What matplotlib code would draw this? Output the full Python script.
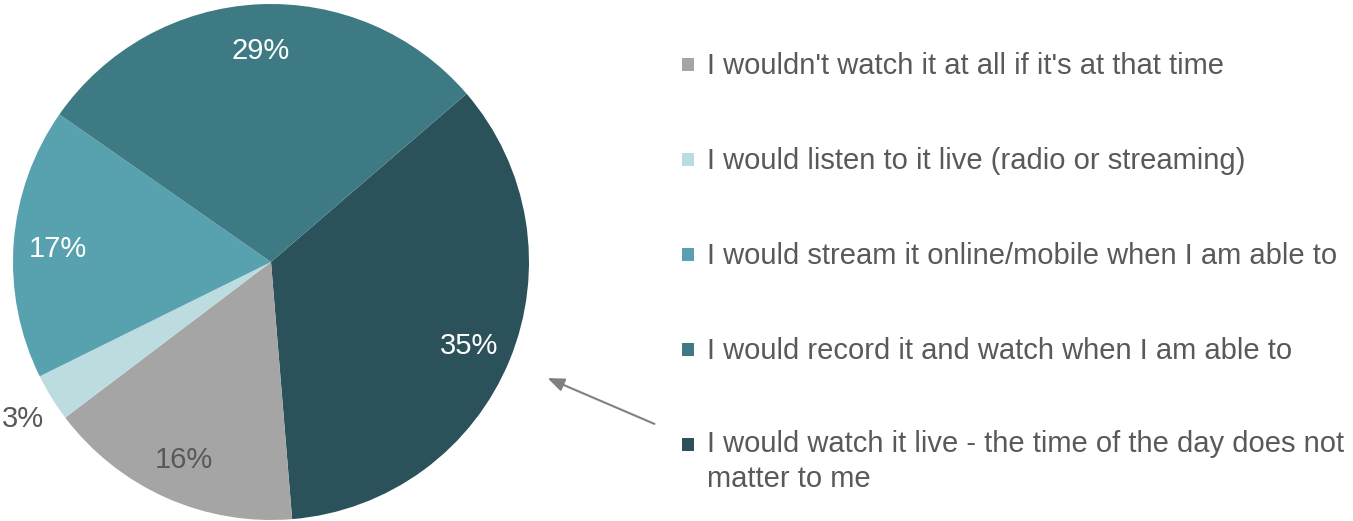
import matplotlib
matplotlib.use("Agg")
import matplotlib.pyplot as plt
from matplotlib.patches import Rectangle, FancyArrowPatch

plt.rcParams['font.family'] = ['Liberation Sans', 'DejaVu Sans']

# slices in drawing order (clockwise)
categorias = ["I would watch it live - the time of the day does not\nmatter to me",
              "I wouldn't watch it at all if it's at that time",
              "I would listen to it live (radio or streaming)",
              "I would stream it online/mobile when I am able to",
              "I would record it and watch when I am able to"]
valores = [35, 16, 3, 17, 29]
colores = ["#2B525B", "#A5A5A5", "#BDDCE0", "#58A2AF", "#3E7A83"]
color_pct = ["white", "#595959", "#595959", "white", "white"]

# legend order top to bottom
orden_leyenda = [1, 2, 3, 4, 0]

W, H = 1353, 521
fig = plt.figure(figsize=(W / 100, H / 100), dpi=100)
cx, cy, r = 271, 262, 258
ax = fig.add_axes([(cx - r) / W, (H - cy - r) / H, 2 * r / W, 2 * r / H])

wedges, _, textos = ax.pie(valores, colors=colores, startangle=40.7, counterclock=False,
                           radius=1, pctdistance=0.83,
                           autopct=lambda p: "%d%%" % round(p),
                           wedgeprops=dict(linewidth=0))
for t, c in zip(textos, color_pct):
    t.set_color(c)
    t.set_fontsize(21)
    x, y = t.get_position()
    t.set_position((x, y - 0.01))

# the small slice gets its label outside
x, y = textos[2].get_position()
textos[2].set_position((x * 1.13 / 0.83, y * 1.13 / 0.83))

ax.set_xlim(-1, 1)
ax.set_ylim(-1, 1)
ax.set_aspect("equal")
ax.axis("off")

# arrow pointing to the biggest slice
fig.add_artist(FancyArrowPatch(
    (657 / W, (H - 425) / H), (545 / W, (H - 377) / H),
    transform=fig.transFigure, arrowstyle="-|>,head_length=10,head_width=4",
    color="#808080", linewidth=1.5, mutation_scale=1))

# legend
y_filas = [64, 159, 254, 349, 444]
for fila, i in zip(y_filas, orden_leyenda):
    fig.add_artist(Rectangle((682 / W, (H - fila - 7) / H), 12 / W, 13 / H,
                             transform=fig.transFigure, color=colores[i], linewidth=0))
    if "\n" in categorias[i]:
        fig.text(707 / W, (H - fila + 14) / H, categorias[i], fontsize=21, color="#595959",
                 va="top", linespacing=1.3)
    else:
        fig.text(707 / W, (H - fila - 2) / H, categorias[i], fontsize=21, color="#595959",
                 va="center")

plt.savefig("out.png", dpi=100)
